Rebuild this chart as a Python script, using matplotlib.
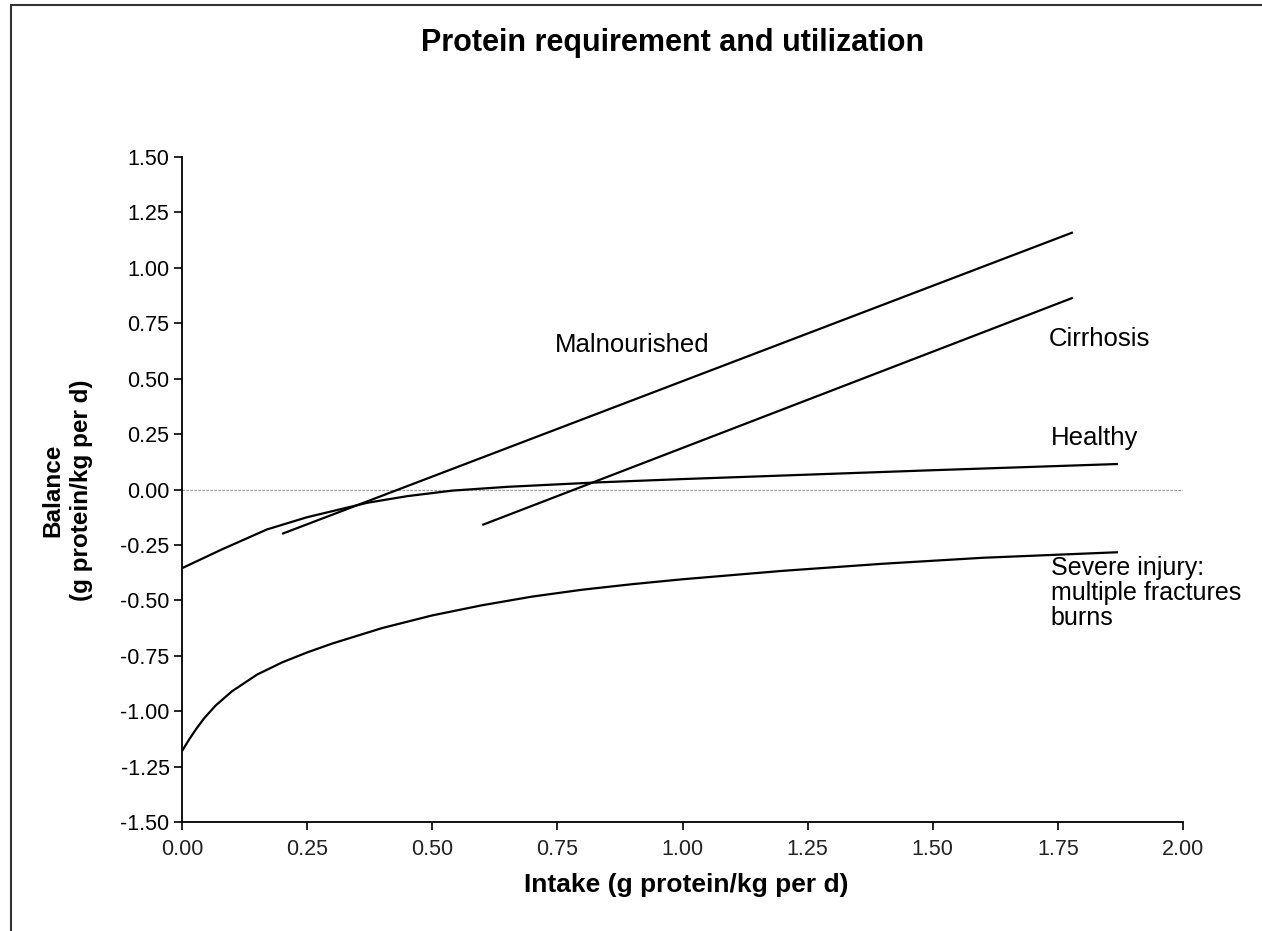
import matplotlib
matplotlib.use("Agg")
import matplotlib.pyplot as plt
from matplotlib.lines import Line2D

plt.rcParams['font.family'] = ['Liberation Sans', 'DejaVu Sans']

# ---- data ----
malnourished_x = [0.20, 1.78]
malnourished_y = [-0.20, 1.16]

cirrhosis_x = [0.60, 1.78]
cirrhosis_y = [-0.16, 0.865]

healthy_x = [0.0, 0.08, 0.17, 0.25, 0.37, 0.45, 0.54, 0.65, 0.83, 1.00, 1.25, 1.50, 1.87]
healthy_y = [-0.355, -0.27, -0.18, -0.125, -0.06, -0.03, -0.005, 0.012, 0.032, 0.047, 0.067, 0.087, 0.115]

severe_x = [0.0, 0.015, 0.03, 0.045, 0.067, 0.10, 0.15, 0.20, 0.25, 0.30, 0.40, 0.50, 0.60, 0.70,
            0.80, 0.90, 1.00, 1.20, 1.40, 1.60, 1.87]
severe_y = [-1.18, -1.125, -1.075, -1.03, -0.975, -0.91, -0.835, -0.78, -0.735, -0.695, -0.625,
            -0.568, -0.522, -0.483, -0.452, -0.427, -0.405, -0.367, -0.335, -0.308, -0.283]

x_ticks = [0.00, 0.25, 0.50, 0.75, 1.00, 1.25, 1.50, 1.75, 2.00]
y_ticks = [-1.50, -1.25, -1.00, -0.75, -0.50, -0.25, 0.00, 0.25, 0.50, 0.75, 1.00, 1.25, 1.50]

title = "Protein requirement and utilization"
xlabel = "Intake (g protein/kg per d)"
ylabel = "Balance\n(g protein/kg per d)"

fig = plt.figure(figsize=(12.62, 9.31), dpi=100)
ax = fig.add_axes([182 / 1262, 1 - 822 / 931, (1183 - 182) / 1262, (822 - 157) / 931])

ax.axhline(0, color='#9a9a9a', lw=0.9, ls=(0, (2, 1.2)), zorder=1)

for xs, ys in [(malnourished_x, malnourished_y), (cirrhosis_x, cirrhosis_y),
               (healthy_x, healthy_y), (severe_x, severe_y)]:
    ax.plot(xs, ys, color='black', lw=1.6, solid_capstyle='butt', solid_joinstyle='round', zorder=3)

ax.set_xlim(0, 2.0)
ax.set_ylim(-1.5, 1.5)
ax.set_xticks(x_ticks)
ax.set_xticklabels([f"{v:.2f}" for v in x_ticks])
ax.set_yticks(y_ticks)
ax.set_yticklabels([f"{v:.2f}" for v in y_ticks])

for s in ['top', 'right']:
    ax.spines[s].set_visible(False)
for s in ['left', 'bottom']:
    ax.spines[s].set_linewidth(1.3)
    ax.spines[s].set_color('black')

ax.tick_params(axis='x', length=6, width=1.2, pad=6, labelsize=15.5, labelcolor='#222222')
ax.tick_params(axis='y', length=6, width=1.2, pad=3, labelsize=15.5, labelcolor='black')

# annotations
ax.text(0.746, 0.652, "Malnourished", fontsize=18.5, ha='left', va='center')
ax.text(1.732, 0.68, "Cirrhosis", fontsize=18.5, ha='left', va='center')
ax.text(1.736, 0.234, "Healthy", fontsize=18.5, ha='left', va='center')
ax.text(1.736, -0.30, "Severe injury:\nmultiple fractures\nburns", fontsize=18,
        ha='left', va='top', linespacing=1.05)

fig.text(673 / 1262, 1 - 43 / 931, title, fontsize=22, fontweight='bold', ha='center', va='center')
fig.text(686 / 1262, 1 - 885 / 931, xlabel, fontsize=19, fontweight='bold', ha='center', va='center')
fig.text(67 / 1262, 1 - 490 / 931, ylabel, fontsize=17.5, fontweight='bold', ha='center', va='center',
         rotation=90, linespacing=1.3)

# page frame (scan border)
fig.add_artist(Line2D([11 / 1262, 11 / 1262], [0, 1 - 5 / 931], transform=fig.transFigure,
                      color='#333333', lw=1.5))
fig.add_artist(Line2D([11 / 1262, 1], [1 - 5 / 931, 1 - 5 / 931], transform=fig.transFigure,
                      color='#333333', lw=1.5))

fig.savefig("out.png", dpi=100)
